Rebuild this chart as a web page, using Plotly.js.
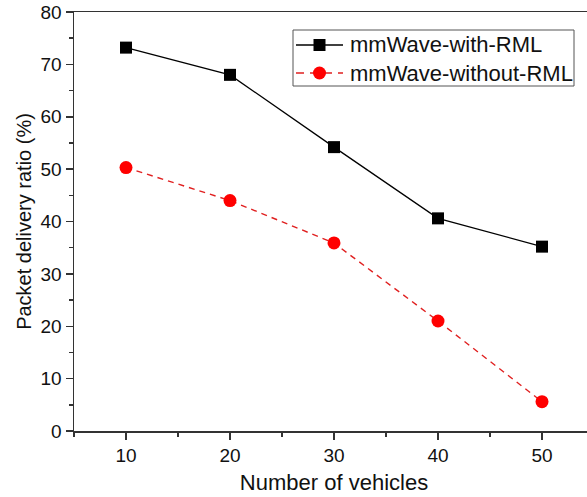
<!DOCTYPE html>
<html>
<head>
<meta charset="utf-8">
<script src="https://cdn.plot.ly/plotly-3.0.1.min.js"></script>
<style>html,body{margin:0;padding:0;overflow:hidden;background:#fff;width:587px;height:497px}</style>
</head>
<body>
<div id="chart"></div>
<script>
const vehicles = [10, 20, 30, 40, 50];
const withRML = [73.2, 68.0, 54.2, 40.6, 35.2];
const withoutRML = [50.3, 44.0, 35.9, 21.0, 5.6];
const seriesNames = ["mmWave-with-RML", "mmWave-without-RML"];

const fam = "Liberation Sans, Arial, sans-serif";
const styles = [
  {line: {color: "#000", width: 1.3}, marker: {symbol: "square", size: 12, color: "#000"}},
  {line: {color: "#e02020", width: 1.4, dash: "6px,5px"}, marker: {symbol: "circle", size: 13, color: "#ff0000"}}
];
const traces = [
  {x: vehicles, y: withRML, name: seriesNames[0], mode: "lines+markers", type: "scatter",
   line: styles[0].line, marker: styles[0].marker, showlegend: false},
  {x: vehicles, y: withoutRML, name: seriesNames[1], mode: "lines+markers", type: "scatter",
   line: styles[1].line, marker: styles[1].marker, showlegend: false}
];

// plot-area geometry (pixels) used to place the custom legend box
const W = 600, H = 497, M = {l: 74, r: 6, t: 12, b: 66};
const pw = W - M.l - M.r, ph = H - M.t - M.b;
const px = v => (v - M.l) / pw;
const py = v => (H - M.b - v) / ph;

const shapes = [];
const annotations = [];
// legend frame
shapes.push({type: "rect", xref: "paper", yref: "paper", x0: px(293), x1: px(574), y0: py(86), y1: py(30),
  line: {color: "#555", width: 1}, fillcolor: "#fff", layer: "above"});
const rowsY = [45, 73];
seriesNames.forEach((name, i) => {
  const yy = py(rowsY[i]);
  const st = styles[i];
  shapes.push({type: "line", xref: "paper", yref: "paper", x0: px(296), x1: px(343), y0: yy, y1: yy,
    line: {color: st.line.color, width: st.line.width, dash: i === 1 ? "8px,6px" : "solid"}, layer: "above"});
  const half = st.marker.size / 2;
  shapes.push({type: st.marker.symbol === "square" ? "rect" : "circle", xref: "paper", yref: "paper",
    xsizemode: "pixel", ysizemode: "pixel", xanchor: px(319.5), yanchor: yy,
    x0: -half, x1: half, y0: -half, y1: half,
    line: {width: 0}, fillcolor: st.marker.color, layer: "above"});
  annotations.push({xref: "paper", yref: "paper", x: px(348), y: yy, xanchor: "left", yanchor: "middle",
    text: name, showarrow: false, font: {family: fam, size: 22, color: "#111"}});
});

const axisFont = {family: fam, size: 19, color: "#111"};
const layout = {
  width: W, height: H,
  margin: M,
  paper_bgcolor: "#fff", plot_bgcolor: "#fff",
  showlegend: false,
  font: axisFont,
  shapes: shapes,
  annotations: annotations,
  xaxis: {range: [5, 55], tickvals: vehicles, ticks: "outside", ticklen: 7, tickwidth: 1.5, tickcolor: "#333",
    showline: true, linecolor: "#333", linewidth: 1.5, mirror: true, showgrid: false, zeroline: false,
    minor: {dtick: 5, tick0: 5, ticks: "outside", ticklen: 4, tickwidth: 1.5, tickcolor: "#333", showgrid: false},
    tickfont: axisFont,
    title: {text: "Number of vehicles", font: {family: fam, size: 22, color: "#111"}, standoff: 9}},
  yaxis: {range: [0, 80], dtick: 10, ticks: "outside", ticklen: 7, tickwidth: 1.5, tickcolor: "#333",
    showline: true, linecolor: "#333", linewidth: 1.5, showgrid: false, zeroline: false,
    minor: {dtick: 5, ticks: "outside", ticklen: 4, tickwidth: 1.5, tickcolor: "#333", showgrid: false},
    tickfont: axisFont,
    title: {text: "Packet delivery ratio (%)", font: {family: fam, size: 20, color: "#111"}, standoff: 3}}
};
Plotly.newPlot("chart", traces, layout, {displayModeBar: false, staticPlot: true});
</script>
</body>
</html>
